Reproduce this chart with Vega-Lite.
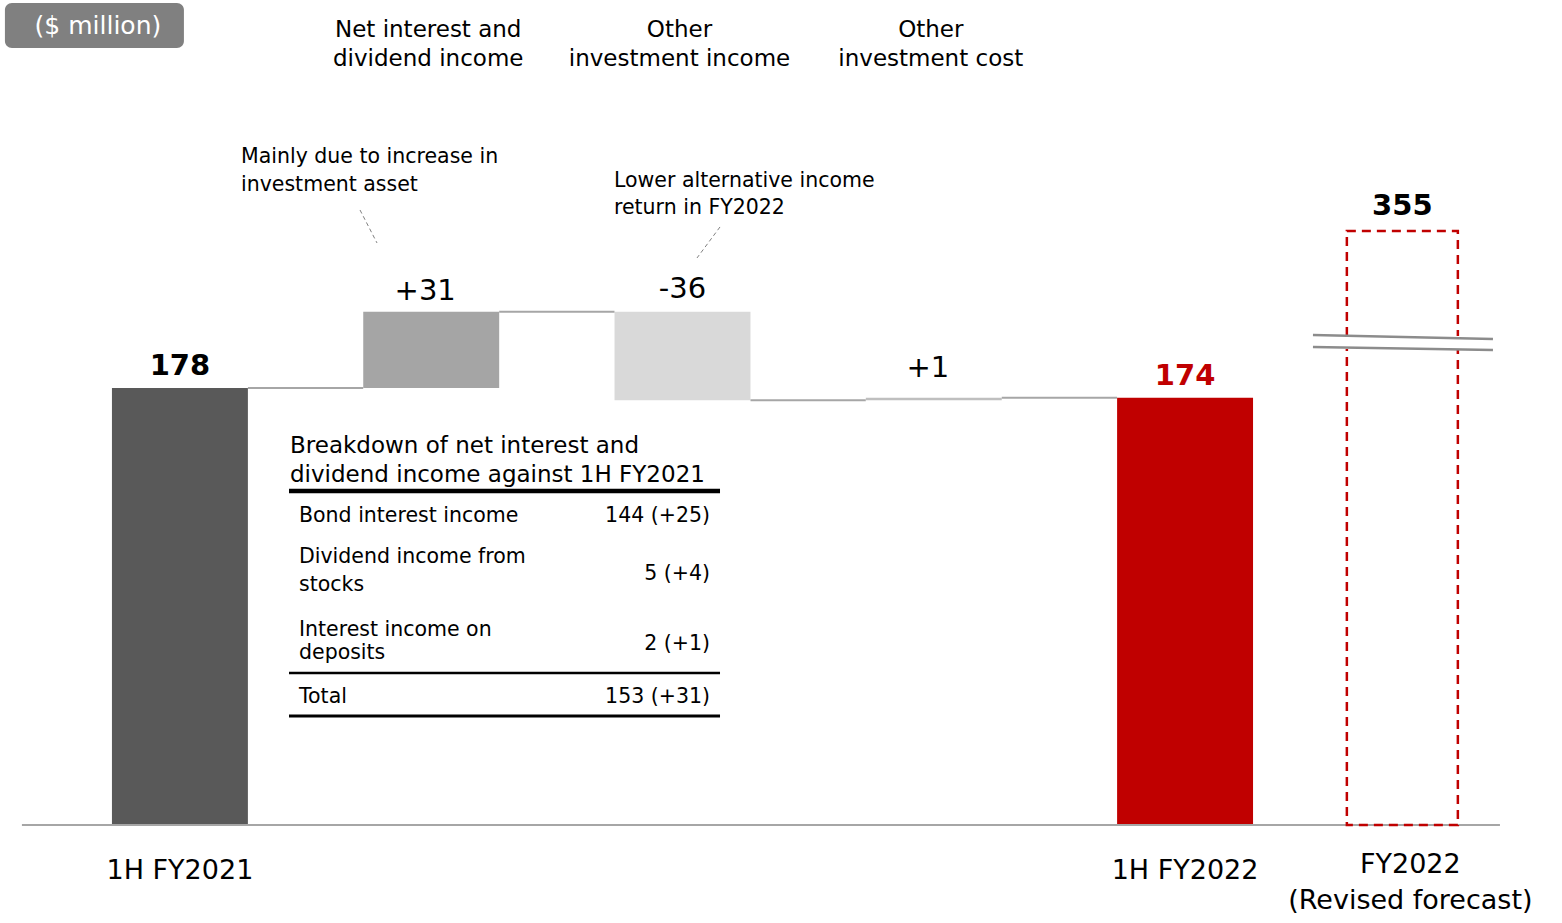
{
  "$schema": "https://vega.github.io/schema/vega-lite/v6.json",
  "width": 1562,
  "height": 923,
  "autosize": {"type": "fit", "contains": "padding"},
  "padding": 0,
  "background": "white",
  "config": {"view": {"stroke": null}, "font": "DejaVu Sans", "text": {"font": "DejaVu Sans", "color": "#000000"}},
  "datasets": {
    "steps": [
      {"stage": "1H FY2021", "caption": "1H FY2021", "from": 0, "to": 178, "label": "178", "next": "Net interest and dividend income"},
      {"stage": "Net interest and dividend income", "caption": "Net interest and\ndividend income", "from": 178, "to": 209, "label": "+31", "next": "Other investment income"},
      {"stage": "Other investment income", "caption": "Other\ninvestment income", "from": 209, "to": 173, "label": "-36", "next": "Other investment cost"},
      {"stage": "Other investment cost", "caption": "Other\ninvestment cost", "from": 173, "to": 174, "label": "+1", "next": "1H FY2022"},
      {"stage": "1H FY2022", "caption": "1H FY2022", "from": 0, "to": 174, "label": "174", "next": null},
      {"stage": "FY2022 (Revised forecast)", "caption": "FY2022\n(Revised forecast)", "from": 0, "to": 355, "label": "355", "next": null}
    ],
    "breakdown": [
      {"item": "Bond interest income", "amount": 144, "change": 25, "display": "144 (+25)"},
      {"item": "Dividend income from\nstocks", "amount": 5, "change": 4, "display": "5 (+4)"},
      {"item": "Interest income on\ndeposits", "amount": 2, "change": 1, "display": "2 (+1)"},
      {"item": "Total", "amount": 153, "change": 31, "display": "153 (+31)"}
    ]
  },
  "resolve": {"scale": {"y": "independent"}},
  "layer": [
    {
      "layer": [
        {
          "data": {"name": "steps"},
          "transform": [{"filter": "datum.stage !== 'FY2022 (Revised forecast)'"}],
          "mark": {"type": "bar"},
          "encoding": {
            "x": {"field": "stage", "type": "nominal", "sort": null, "axis": null,
                  "scale": {"type": "band", "domain": ["1H FY2021", "Net interest and dividend income", "Other investment income", "Other investment cost", "1H FY2022", "FY2022 (Revised forecast)"], "paddingInner": 0.459, "paddingOuter": 0.3375, "align": 0.66}},
            "y": {"field": "from", "type": "quantitative", "axis": null, "scale": {"domain": [-39.92, 336.03], "nice": false, "zero": false}},
            "y2": {"field": "to"},
            "color": {"field": "stage", "type": "nominal", "legend": null,
                      "scale": {"domain": ["1H FY2021", "Net interest and dividend income", "Other investment income", "Other investment cost", "1H FY2022"], "range": ["#595959", "#a5a5a5", "#d9d9d9", "#bfbfbf", "#c00000"]}}
          }
        },
        {
          "data": {"name": "steps"},
          "transform": [{"filter": "datum.next != null"}],
          "mark": {"type": "rule", "color": "#a6a6a6", "strokeWidth": 2, "xOffset": 68, "x2Offset": -68},
          "encoding": {
            "x": {"field": "stage", "type": "nominal"},
            "x2": {"field": "next"},
            "y": {"field": "to", "type": "quantitative"}
          }
        },
        {
          "data": {"values": [{}]},
          "mark": {"type": "rule", "color": "#a6a6a6", "strokeWidth": 2, "xOffset": -158, "x2Offset": 63.6},
          "encoding": {
            "x": {"datum": "1H FY2021"},
            "x2": {"datum": "FY2022 (Revised forecast)"},
            "y": {"datum": 0}
          }
        },
        {
          "data": {"name": "steps"},
          "transform": [{"filter": "datum.from === 0 && datum.stage !== 'FY2022 (Revised forecast)'"}],
          "mark": {"type": "text", "fontSize": 29, "fontWeight": "bold", "baseline": "alphabetic", "align": "center", "dy": -13},
          "encoding": {
            "x": {"field": "stage", "type": "nominal"},
            "y": {"field": "to", "type": "quantitative"},
            "text": {"field": "label"},
            "color": {"condition": {"test": "datum.stage === '1H FY2022'", "value": "#c00000"}, "value": "#000000"}
          }
        },
        {
          "data": {"name": "steps"},
          "transform": [{"filter": "datum.from !== 0 && datum.to - datum.from > 5"}],
          "mark": {"type": "text", "fontSize": 29, "baseline": "alphabetic", "align": "center", "dy": -12, "dx": -6, "color": "#000000"},
          "encoding": {
            "x": {"field": "stage", "type": "nominal"},
            "y": {"field": "to", "type": "quantitative"},
            "text": {"field": "label"}
          }
        },
        {
          "data": {"name": "steps"},
          "transform": [{"filter": "datum.from !== 0 && datum.to > datum.from && datum.to - datum.from <= 5"}],
          "mark": {"type": "text", "fontSize": 29, "baseline": "alphabetic", "align": "center", "dy": -21, "dx": -6, "color": "#000000"},
          "encoding": {
            "x": {"field": "stage", "type": "nominal"},
            "y": {"field": "to", "type": "quantitative"},
            "text": {"field": "label"}
          }
        },
        {
          "data": {"name": "steps"},
          "transform": [{"filter": "datum.to < datum.from"}],
          "mark": {"type": "text", "fontSize": 29, "baseline": "alphabetic", "align": "center", "dy": -14, "color": "#000000"},
          "encoding": {
            "x": {"field": "stage", "type": "nominal"},
            "y": {"field": "from", "type": "quantitative"},
            "text": {"field": "label"}
          }
        },
        {
          "data": {"name": "steps"},
          "transform": [{"filter": "datum.from !== 0"}],
          "mark": {"type": "text", "fontSize": 23, "baseline": "alphabetic", "align": "center", "lineBreak": "\n", "lineHeight": 29, "dx": -3, "color": "#000000"},
          "encoding": {
            "x": {"field": "stage", "type": "nominal"},
            "y": {"datum": 320.96},
            "text": {"field": "caption"}
          }
        },
        {
          "data": {"name": "steps"},
          "transform": [{"filter": "datum.from === 0 && datum.stage !== 'FY2022 (Revised forecast)'"}],
          "mark": {"type": "text", "fontSize": 27, "baseline": "alphabetic", "align": "center", "color": "#000000"},
          "encoding": {
            "x": {"field": "stage", "type": "nominal"},
            "y": {"datum": -22.2},
            "text": {"field": "caption"}
          }
        },
        {
          "data": {"name": "steps"},
          "transform": [{"filter": "datum.stage === 'FY2022 (Revised forecast)'"}],
          "mark": {"type": "text", "fontSize": 27, "baseline": "alphabetic", "align": "center", "lineBreak": "\n", "lineHeight": 36, "dx": -26, "color": "#000000"},
          "encoding": {
            "x": {"field": "stage", "type": "nominal"},
            "y": {"datum": -19.55},
            "text": {"field": "caption"}
          }
        },
        {
          "data": {"values": [{}]},
          "mark": {"type": "bar", "fill": "#808080", "cornerRadius": 7, "width": 179, "xOffset": -85.5},
          "encoding": {
            "x": {"datum": "1H FY2021"},
            "y": {"datum": 334.8},
            "y2": {"datum": 316.46}
          }
        },
        {
          "data": {"values": [{}]},
          "mark": {"type": "text", "text": "($ million)", "fontSize": 25, "color": "#ffffff", "baseline": "middle", "align": "center", "dx": -82},
          "encoding": {
            "x": {"datum": "1H FY2021"},
            "y": {"datum": 325.44}
          }
        },
        {
          "data": {"values": [{}]},
          "mark": {"type": "text", "text": "Mainly due to increase in\ninvestment asset", "lineBreak": "\n", "lineHeight": 28, "fontSize": 20.5, "align": "left", "baseline": "alphabetic", "dx": -190.2, "color": "#000000"},
          "encoding": {
            "x": {"datum": "Net interest and dividend income"},
            "y": {"datum": 269.64}
          }
        },
        {
          "data": {"values": [{}]},
          "mark": {"type": "rule", "color": "#808080", "strokeWidth": 1, "strokeDash": [4, 3], "xOffset": -71.2, "x2Offset": -54.2},
          "encoding": {
            "x": {"datum": "Net interest and dividend income"},
            "x2": {"datum": "Net interest and dividend income"},
            "y": {"datum": 250.5},
            "y2": {"datum": 237.06}
          }
        },
        {
          "data": {"values": [{}]},
          "mark": {"type": "text", "text": "Lower alternative income\nreturn in FY2022", "lineBreak": "\n", "lineHeight": 27, "fontSize": 20.5, "align": "left", "baseline": "alphabetic", "dx": -68.5, "color": "#000000"},
          "encoding": {
            "x": {"datum": "Other investment income"},
            "y": {"datum": 259.87}
          }
        },
        {
          "data": {"values": [{}]},
          "mark": {"type": "rule", "color": "#808080", "strokeWidth": 1, "strokeDash": [4, 3], "xOffset": 37.5, "x2Offset": 14.5},
          "encoding": {
            "x": {"datum": "Other investment income"},
            "x2": {"datum": "Other investment income"},
            "y": {"datum": 243.58},
            "y2": {"datum": 230.95}
          }
        },
        {
          "data": {"values": [{}]},
          "mark": {"type": "text", "text": "Breakdown of net interest and\ndividend income against 1H FY2021", "lineBreak": "\n", "lineHeight": 29, "fontSize": 23, "align": "left", "baseline": "alphabetic", "dx": -141.2, "color": "#000000"},
          "encoding": {
            "x": {"datum": "Net interest and dividend income"},
            "y": {"datum": 151.52}
          }
        },
        {
          "data": {"values": [{}]},
          "mark": {"type": "rule", "color": "#000000", "strokeWidth": 4.5, "xOffset": -142.2, "x2Offset": 288.8},
          "encoding": {
            "x": {"datum": "Net interest and dividend income"},
            "x2": {"datum": "Net interest and dividend income"},
            "y": {"datum": 136.04}
          }
        },
        {
          "data": {"values": [{}]},
          "mark": {"type": "rule", "color": "#000000", "strokeWidth": 2.5, "xOffset": -142.2, "x2Offset": 288.8},
          "encoding": {
            "x": {"datum": "Net interest and dividend income"},
            "x2": {"datum": "Net interest and dividend income"},
            "y": {"datum": 61.91}
          }
        },
        {
          "data": {"values": [{}]},
          "mark": {"type": "rule", "color": "#000000", "strokeWidth": 3, "xOffset": -142.2, "x2Offset": 288.8},
          "encoding": {
            "x": {"datum": "Net interest and dividend income"},
            "x2": {"datum": "Net interest and dividend income"},
            "y": {"datum": 44.4}
          }
        },
        {
          "data": {"name": "breakdown"},
          "transform": [{"filter": "datum.amount === 144"}],
          "mark": {"type": "text", "fontSize": 20.5, "align": "left", "baseline": "alphabetic", "dx": -132.2, "color": "#000000"},
          "encoding": {"x": {"datum": "Net interest and dividend income"}, "y": {"datum": 123.42}, "text": {"field": "item"}}
        },
        {
          "data": {"name": "breakdown"},
          "transform": [{"filter": "datum.amount === 144"}],
          "mark": {"type": "text", "fontSize": 20.5, "align": "right", "baseline": "alphabetic", "dx": 278.8, "color": "#000000"},
          "encoding": {"x": {"datum": "Net interest and dividend income"}, "y": {"datum": 123.42}, "text": {"field": "display"}}
        },
        {
          "data": {"name": "breakdown"},
          "transform": [{"filter": "datum.amount === 5"}],
          "mark": {"type": "text", "fontSize": 20.5, "align": "left", "baseline": "alphabetic", "lineBreak": "\n", "lineHeight": 28, "dx": -132.2, "color": "#000000"},
          "encoding": {"x": {"datum": "Net interest and dividend income"}, "y": {"datum": 106.71}, "text": {"field": "item"}}
        },
        {
          "data": {"name": "breakdown"},
          "transform": [{"filter": "datum.amount === 5"}],
          "mark": {"type": "text", "fontSize": 20.5, "align": "right", "baseline": "alphabetic", "dx": 278.8, "color": "#000000"},
          "encoding": {"x": {"datum": "Net interest and dividend income"}, "y": {"datum": 99.79}, "text": {"field": "display"}}
        },
        {
          "data": {"name": "breakdown"},
          "transform": [{"filter": "datum.amount === 2"}],
          "mark": {"type": "text", "fontSize": 20.5, "align": "left", "baseline": "alphabetic", "lineBreak": "\n", "lineHeight": 23.5, "dx": -132.2, "color": "#000000"},
          "encoding": {"x": {"datum": "Net interest and dividend income"}, "y": {"datum": 76.98}, "text": {"field": "item"}}
        },
        {
          "data": {"name": "breakdown"},
          "transform": [{"filter": "datum.amount === 2"}],
          "mark": {"type": "text", "fontSize": 20.5, "align": "right", "baseline": "alphabetic", "dx": 278.8, "color": "#000000"},
          "encoding": {"x": {"datum": "Net interest and dividend income"}, "y": {"datum": 71.28}, "text": {"field": "display"}}
        },
        {
          "data": {"name": "breakdown"},
          "transform": [{"filter": "datum.amount === 153"}],
          "mark": {"type": "text", "fontSize": 20.5, "align": "left", "baseline": "alphabetic", "dx": -132.2, "color": "#000000"},
          "encoding": {"x": {"datum": "Net interest and dividend income"}, "y": {"datum": 49.69}, "text": {"field": "item"}}
        },
        {
          "data": {"name": "breakdown"},
          "transform": [{"filter": "datum.amount === 153"}],
          "mark": {"type": "text", "fontSize": 20.5, "align": "right", "baseline": "alphabetic", "dx": 278.8, "color": "#000000"},
          "encoding": {"x": {"datum": "Net interest and dividend income"}, "y": {"datum": 49.69}, "text": {"field": "display"}}
        }
      ]
    },
    {
      "layer": [
        {
          "data": {"name": "steps"},
          "transform": [{"filter": "datum.stage === 'FY2022 (Revised forecast)'"}],
          "mark": {"type": "bar", "fill": "transparent", "stroke": "#c00000", "strokeWidth": 2.5, "strokeDash": [9, 6], "width": 111, "xOffset": -34},
          "encoding": {
            "x": {"field": "stage", "type": "nominal", "sort": null, "axis": null,
                  "scale": {"type": "band", "domain": ["1H FY2021", "Net interest and dividend income", "Other investment income", "Other investment cost", "1H FY2022", "FY2022 (Revised forecast)"], "paddingInner": 0.459, "paddingOuter": 0.3375, "align": 0.66}},
            "y": {"field": "from", "type": "quantitative", "axis": null, "scale": {"domain": [-58.57, 493.05], "nice": false, "zero": false}},
            "y2": {"field": "to"}
          }
        },
        {
          "data": {"values": [{}]},
          "mark": {"type": "bar", "fill": "#ffffff", "width": 180, "xOffset": -33.4},
          "encoding": {
            "x": {"datum": "FY2022 (Revised forecast)"},
            "y": {"datum": 292.24},
            "y2": {"datum": 284.47}
          }
        },
        {
          "data": {"values": [{}]},
          "mark": {"type": "rule", "color": "#8c8c8c", "strokeWidth": 2.5, "xOffset": -123.4, "x2Offset": 56.6},
          "encoding": {
            "x": {"datum": "FY2022 (Revised forecast)"},
            "x2": {"datum": "FY2022 (Revised forecast)"},
            "y": {"datum": 292.85},
            "y2": {"datum": 290.45}
          }
        },
        {
          "data": {"values": [{}]},
          "mark": {"type": "rule", "color": "#8c8c8c", "strokeWidth": 2.5, "xOffset": -123.4, "x2Offset": 56.6},
          "encoding": {
            "x": {"datum": "FY2022 (Revised forecast)"},
            "x2": {"datum": "FY2022 (Revised forecast)"},
            "y": {"datum": 285.67},
            "y2": {"datum": 283.88}
          }
        },
        {
          "data": {"name": "steps"},
          "transform": [{"filter": "datum.stage === 'FY2022 (Revised forecast)'"}],
          "mark": {"type": "text", "fontSize": 29, "fontWeight": "bold", "baseline": "alphabetic", "align": "center", "dy": -16, "dx": -34, "color": "#000000"},
          "encoding": {
            "x": {"field": "stage", "type": "nominal"},
            "y": {"field": "to", "type": "quantitative"},
            "text": {"field": "label"}
          }
        }
      ]
    }
  ]
}
